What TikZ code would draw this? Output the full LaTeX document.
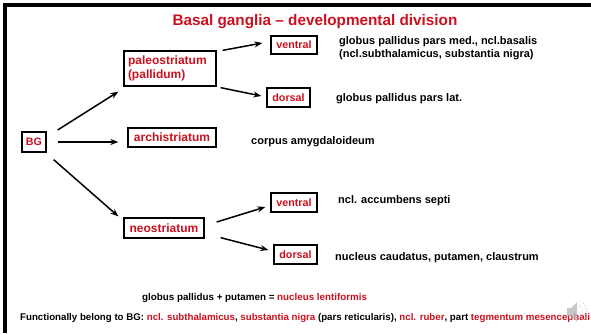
\documentclass[tikz,border=0pt]{standalone}
\usepackage{fontspec}
\setmainfont{Liberation Sans}
\usetikzlibrary{arrows.meta,calc}
\definecolor{tred}{RGB}{204,16,30}
\tikzset{
  box/.style={draw=black,line width=1.3pt,inner sep=0pt,text=tred,font=\fontsize{12}{14}\selectfont\bfseries},
  sbox/.style={box,font=\fontsize{10.7}{12}\selectfont\bfseries},
  arr/.style={line width=1.5pt,-{Stealth[length=8pt,width=6pt]}},
  info/.style={anchor=west,inner sep=0pt,align=left,font=\fontsize{11}{13}\selectfont\bfseries},
}
\begin{document}
\begin{tikzpicture}[x=1pt,y=-1pt]
\useasboundingbox (0,0) rectangle (591,333);
\fill[white] (0,0) rectangle (591,333);
\draw[line width=4pt] (4.5,333) -- (4.5,4.5) -- (591,4.5);
\node[anchor=center,inner sep=0pt,text=tred,font=\fontsize{15.3}{17}\selectfont\bfseries] (title) at (315,22) {Basal ganglia -- developmental division};
% boxes
\node[box,minimum width=92pt,minimum height=35pt,align=left,text width=84pt] (paleo) at (170,68.5) {paleostriatum\\(pallidum)};
\node[sbox,minimum width=24pt,minimum height=20pt] (bg) at (34,142) {BG};
\node[box,minimum width=88pt,minimum height=19pt] (archi) at (172,137.5) {archistriatum};
\node[box,minimum width=80pt,minimum height=20pt] (neo) at (164,228) {neostriatum};
\node[sbox,minimum width=46pt,minimum height=18pt] (vt) at (294,45) {ventral};
\node[sbox,minimum width=43pt,minimum height=19pt] (dt) at (288.5,97.5) {dorsal};
\node[sbox,minimum width=46pt,minimum height=19pt] (vb) at (294,202.5) {ventral};
\node[sbox,minimum width=43pt,minimum height=19pt] (db) at (295.5,254.5) {dorsal};
% arrows
\draw[arr] ($(bg.east)+(11,-12)$) -- ($(paleo.south west)+(-5,5)$);
\draw[arr] ($(bg.east)+(11,0)$) -- ($(archi.west)+(-9,4.5)$);
\draw[arr] ($(bg.south east)+(7,7)$) -- ($(neo.north west)+(-5,-1)$);
\draw[arr] ($(paleo.north east)+(6,0)$) -- ($(vt.west)+(-8,-2)$);
\draw[arr] ($(paleo.south east)+(4,1)$) -- ($(dt.west)+(-5,-1.5)$);
\draw[arr] ($(neo.east)+(12,-6)$) -- ($(vb.west)+(-5,4.5)$);
\draw[arr] ($(neo.south east)+(16,-1)$) -- ($(db.west)+(-5,-4.5)$);
% info texts
\node[info] (t1) at (339,48) {globus pallidus pars med., ncl.basalis\\(ncl.subthalamicus, substantia nigra)};
\node[info] (t2) at (336,98.5) {globus pallidus pars lat.};
\node[info] (t3) at (251,141.5) {corpus amygdaloideum};
\node[info] (t4) at (338,200.5) {ncl. accumbens septi};
\node[info] (t5) at (335,257.5) {nucleus caudatus, putamen, claustrum};
\node[info,font=\fontsize{9.8}{11}\selectfont\bfseries] (t6) at (142,298) {globus pallidus + putamen = \textcolor{tred}{nucleus lentiformis}};
\node[info,font=\fontsize{9.7}{11}\selectfont\bfseries] (t7) at (20,318) {Functionally belong to BG: \textcolor{tred}{ncl. subthalamicus}, \textcolor{tred}{substantia nigra} (pars reticularis), \textcolor{tred}{ncl. ruber}, part \textcolor{tred}{tegmentum mesencephali}};
% speaker icon
\fill[gray!55,opacity=0.8] (567,308) -- (571,308) -- (577,302) -- (577,322) -- (571,316) -- (567,316) -- cycle;
\draw[gray!45,line width=1pt,opacity=0.8,dotted] (580,306) arc[start angle=-50,end angle=50,radius=7];
\draw[gray!45,line width=1pt,opacity=0.8,dotted] (583,303) arc[start angle=-50,end angle=50,radius=11];
\end{tikzpicture}
\end{document}
